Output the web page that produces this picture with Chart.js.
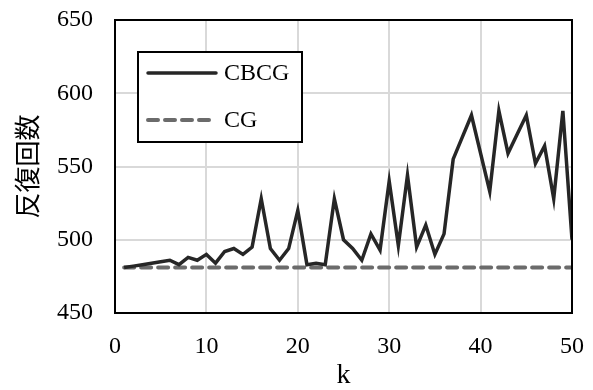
<!DOCTYPE html>
<html>
<head>
<meta charset="utf-8">
<script src="https://cdn.jsdelivr.net/npm/chart.js@4"></script>
<style>
  html, body { margin: 0; padding: 0; background: #fff; }
  #wrap { width: 593px; height: 390px; }
</style>
</head>
<body>
<div id="wrap"><canvas id="chart" width="593" height="390"></canvas></div>
<script>
// ── DATA ──
const kValues = [1,2,3,4,5,6,7,8,9,10,11,12,13,14,15,16,17,18,19,20,21,22,23,24,25,
  26,27,28,29,30,31,32,33,34,35,36,37,38,39,40,41,42,43,44,45,46,47,48,49,50];
const cbcgIters = [481,482,483,484,485,486,483,488,486,490,484,492,494,490,495,528,494,486,494,520,
  483,484,483,528,500,494,486,504,493,540,496,544,495,510,490,504,555,570,585,559,
  533,588,559,572,585,552,564,528,588,500];
const cgIters = kValues.map(() => 481);
const xTicks = [0, 10, 20, 30, 40, 50];
const yTicks = [450, 500, 550, 600, 650];

const SERIF = '"Liberation Serif", "DejaVu Serif", serif';
const CJK = '"Noto Sans CJK JP", "Noto Sans", sans-serif';

// ── FRAME + LEGEND ──
const framePlugin = {
  id: 'frame',
  afterDraw(chart) {
    const { ctx, chartArea: a } = chart;
    ctx.save();
    ctx.strokeStyle = '#000';
    ctx.lineWidth = 2;
    ctx.strokeRect(a.left, a.top, a.right - a.left, a.bottom - a.top);

    // legend box
    const bx = 138, by = 52, bw = 164, bh = 90;
    ctx.fillStyle = '#fff';
    ctx.fillRect(bx, by, bw, bh);
    ctx.strokeRect(bx, by, bw, bh);
    chart.data.datasets.forEach((ds, i) => {
      const y = by + 21 + i * 47;
      ctx.beginPath();
      ctx.strokeStyle = ds.borderColor;
      ctx.lineWidth = ds.borderWidth;
      ctx.lineCap = 'round';
      ctx.setLineDash(ds.borderDash || []);
      ctx.moveTo(148, y);
      ctx.lineTo(216, y);
      ctx.stroke();
      ctx.setLineDash([]);
      ctx.fillStyle = '#000';
      ctx.font = '24px ' + SERIF;
      ctx.textBaseline = 'middle';
      ctx.fillText(ds.label, 224, y + 1);
    });
    ctx.restore();
  }
};

new Chart(document.getElementById('chart'), {
  type: 'line',
  data: {
    labels: kValues,
    datasets: [
      {
        label: 'CBCG',
        data: kValues.map((k, i) => ({ x: k, y: cbcgIters[i] })),
        borderColor: '#262626',
        borderWidth: 3.5,
        pointRadius: 0,
        tension: 0,
        borderJoinStyle: 'miter',
      },
      {
        label: 'CG',
        data: kValues.map((k, i) => ({ x: k, y: cgIters[i] })),
        borderColor: '#6b6b6b',
        borderWidth: 4,
        borderDash: [10, 7],
        borderCapStyle: 'round',
        pointRadius: 0,
        tension: 0,
      },
    ],
  },
  options: {
    responsive: false,
    animation: false,
    devicePixelRatio: 1,
    layout: { padding: { top: 20, right: 21, left: 0, bottom: 0 } },
    plugins: { legend: { display: false }, tooltip: { enabled: false } },
    scales: {
      x: {
        type: 'linear',
        min: 0, max: 50,
        afterBuildTicks: s => { s.ticks = xTicks.map(v => ({ value: v })); },
        afterFit: s => { s.height = 77; s.paddingLeft = 0; s.paddingRight = 0; },
        grid: { color: '#d9d9d9', lineWidth: 2, drawTicks: false },
        border: { display: false },
        ticks: { color: '#000', font: { family: SERIF, size: 24 }, padding: 19, maxRotation: 0 },
        title: { display: true, text: 'k', color: '#000', font: { family: SERIF, size: 28, lineHeight: 1 }, padding: { top: 0, bottom: 0 } },
      },
      y: {
        min: 450, max: 650,
        afterBuildTicks: s => { s.ticks = yTicks.map(v => ({ value: v })); },
        afterFit: s => { s.width = 115; s.paddingTop = 0; s.paddingBottom = 0; },
        grid: { color: '#d9d9d9', lineWidth: 2, drawTicks: false },
        border: { display: false },
        ticks: { color: '#000', font: { family: SERIF, size: 24 }, padding: 22 },
        title: { display: true, text: '反復回数', color: '#000', font: { family: CJK, size: 26 }, padding: { top: 12, bottom: 0 } },
      },
    },
  },
  plugins: [framePlugin],
});
</script>
</body>
</html>
